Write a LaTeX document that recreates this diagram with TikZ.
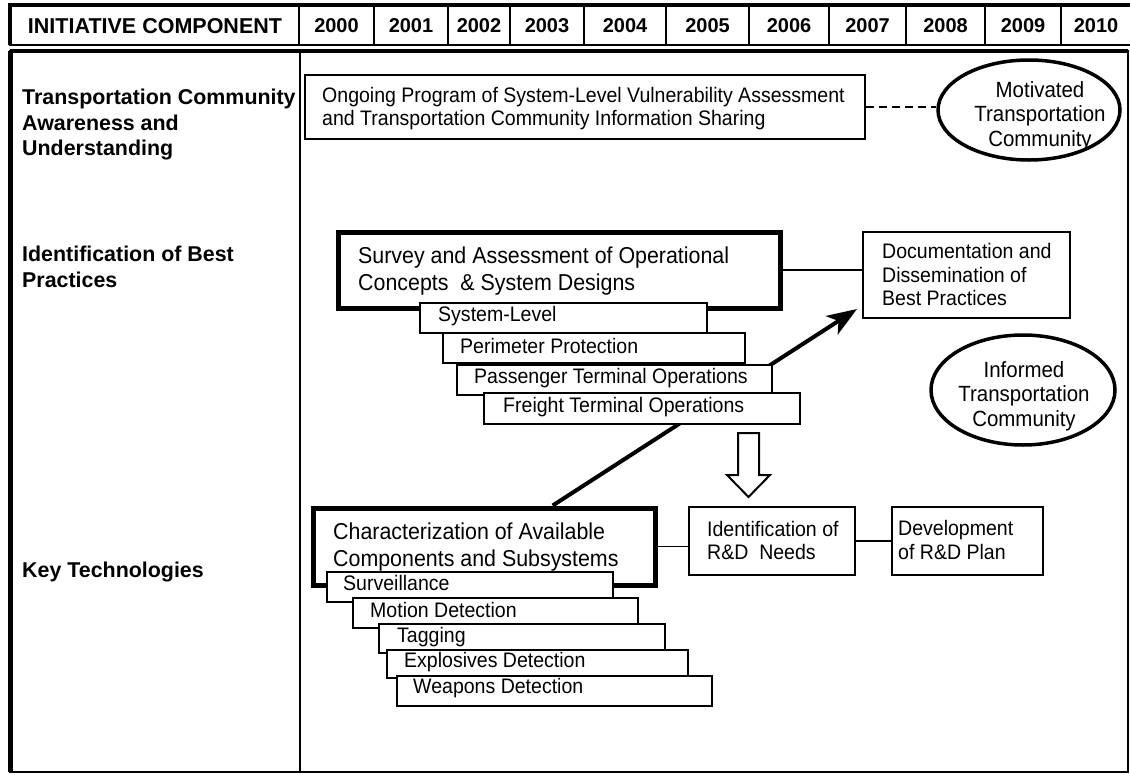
\documentclass[tikz,border=0pt]{standalone}
\usepackage{fontspec}
\setmainfont{Liberation Sans}
\newfontfamily\condsans[FakeStretch=0.93]{Liberation Sans}
\usetikzlibrary{calc,shapes.geometric,arrows.meta}

\begin{document}
\begin{tikzpicture}[x=1pt,y=-1pt,
  thinbox/.style={draw,line width=2pt,fill=white,inner sep=0pt},
  heavybox/.style={draw,line width=5pt,fill=white,inner sep=0pt},
  oval/.style={draw,ellipse,line width=3.5pt,inner sep=0pt},
  txt/.style={font=\condsans\fontsize{21pt}{23.5pt}\selectfont,align=left,inner sep=0pt,anchor=west},
  bigtxt/.style={font=\condsans\fontsize{23pt}{27pt}\selectfont,align=left,inner sep=0pt,anchor=west},
  ovaltxt/.style={font=\condsans\fontsize{22pt}{24.5pt}\selectfont,align=center,inner sep=0pt},
  headtxt/.style={font=\bfseries\fontsize{21.4pt}{25.5pt}\selectfont,align=left,inner sep=0pt,anchor=west},
  yeartxt/.style={font=\bfseries\fontsize{20pt}{22pt}\selectfont,inner sep=0pt},
  conn/.style={line width=1.6pt},
  bigarrow/.style={line width=4pt,-{Stealth[length=30pt,width=22pt,inset=8pt]}},
  hollow/.style={draw,line width=2pt,fill=white,line join=miter}]

\useasboundingbox (0,0) rectangle (1130,774);

% ---- header row ----
\draw[line width=2pt] (10,5) rectangle (1145,45);
\draw[line width=4pt] (10,45) -- (10,5) -- (1145,5);
\foreach \x in {299,374,448,510,584,666,749,829,906,985,1061}
  \draw[line width=1.6pt] (\x,5) -- (\x,45);
\node[yeartxt,font=\bfseries\fontsize{21.5pt}{23pt}\selectfont] (hdr) at (155,26) {INITIATIVE COMPONENT};
\foreach \yr/\cx in {2000/336.5,2001/411,2002/479,2003/547,2004/625,2005/707.5,
                     2006/789,2007/867.5,2008/945.5,2009/1023,2010/1096}
  \node[yeartxt] (yr\yr) at (\cx,26) {\yr};

% ---- body frame ----
\draw[line width=2pt] (10,51) rectangle (1128,772);
\draw[line width=5pt] (10,772) -- (10,51);
\draw[line width=4pt] (10,51) -- (1128,51);
\draw[line width=2pt] (300,51) -- (300,772);

% ---- row headings ----
\node[headtxt] (rowA) at (22,125) {Transportation Community\\Awareness and\\Understanding};
\node[headtxt] (rowB) at (22,267) {Identification of Best\\Practices};
\node[headtxt] (rowC) at (22,572) {Key Technologies};

% ---- awareness row ----
\node[thinbox,minimum width=560pt,minimum height=64pt] (ongoing) at (585,107) {};
\node[txt] (ongoingtxt) at (322,108.5) {Ongoing Program of System-Level Vulnerability Assessment\\and Transportation Community Information Sharing};
\node[oval,minimum width=182pt,minimum height=100pt] (motiv) at (1029,110) {};
\node[ovaltxt] (motivtxt) at (1040,116) {Motivated\\Transportation\\Community};
\draw[conn,line width=2pt,dash pattern=on 8pt off 5pt] (ongoing.east) -- (ongoing.east -| motiv.west);

% ---- main arrow from key technologies up to best practices (behind boxes) ----
\node[heavybox,minimum width=342pt,minimum height=77pt] (charbox) at (484,546.5) {};
\node[thinbox,minimum width=207pt,minimum height=86pt] (doc) at (966.5,275) {};
\coordinate (tipend) at ($(doc.south west)+(-5,-10)$);
\draw[bigarrow] ($(charbox.north west)!0.698!(charbox.north east)$) -- (tipend);

% ---- best practices row ----
\node[heavybox,minimum width=442pt,minimum height=76pt] (survey) at (559,270) {};
\node[bigtxt] (surveytxt) at (358,271.5) {Survey and Assessment of Operational\\Concepts~ \& System Designs};
\node[txt] (doctxt) at (882,274.5) {Documentation and\\Dissemination of\\Best Practices};
\draw[conn] (survey.east) -- (survey.east -| doc.west);

\node[thinbox,minimum width=287pt,minimum height=30pt] (syslevel) at (563.5,318) {};
\node[txt] (syslevelt) at (438,316) {System-Level};
\node[thinbox,minimum width=302pt,minimum height=30pt] (perim) at (594,348) {};
\node[txt] (perimt) at (460,346) {Perimeter Protection};
\node[thinbox,minimum width=315pt,minimum height=30pt] (passenger) at (614.5,380) {};
\node[txt] (passengert) at (474,378) {Passenger Terminal Operations};
\node[thinbox,minimum width=316pt,minimum height=31pt] (freight) at (642,408.5) {};
\node[txt] (freightt) at (503,407) {Freight Terminal Operations};

\node[oval,minimum width=184pt,minimum height=110pt] (informed) at (1023,390) {};
\node[ovaltxt] (informedtxt) at (1024,396) {Informed\\Transportation\\Community};

% ---- hollow arrow down to R&D needs ----
\coordinate (dtop) at (748.5,433);
\draw[hollow] ($(dtop)+(-10.5,0)$) -- ($(dtop)+(10.5,0)$) -- ($(dtop)+(10.5,42)$)
  -- ($(dtop)+(21.5,42)$) -- ($(dtop)+(0,64)$) -- ($(dtop)+(-21.5,42)$)
  -- ($(dtop)+(-10.5,42)$) -- cycle;

% ---- key technologies row ----
\node[bigtxt] (chartxt) at (333,547) {Characterization of Available\\Components and Subsystems};

\node[thinbox,minimum width=286pt,minimum height=30pt] (surv) at (470,587) {};
\node[txt] (survt) at (343,583) {Surveillance};
\node[thinbox,minimum width=285pt,minimum height=30pt] (motion) at (495.5,613) {};
\node[txt] (motiont) at (370,610) {Motion Detection};
\node[thinbox,minimum width=286pt,minimum height=29pt] (tagging) at (522,638.5) {};
\node[txt] (taggingt) at (397,637) {Tagging};
\node[thinbox,minimum width=301pt,minimum height=28pt] (explo) at (537.5,664) {};
\node[txt] (explot) at (404,662) {Explosives Detection};
\node[thinbox,minimum width=315pt,minimum height=30pt] (weapons) at (554.5,691) {};
\node[txt] (weaponst) at (413,688) {Weapons Detection};

\node[thinbox,minimum width=166pt,minimum height=68pt] (idn) at (772,541) {};
\node[txt] (idntxt) at (707,540.5) {Identification of\\R\&D~ Needs};
\node[thinbox,minimum width=151pt,minimum height=68pt] (dev) at (967.5,541) {};
\node[txt] (devtxt) at (898,540) {Development\\of R\&D Plan};

\draw[conn] (charbox.east) -- (charbox.east -| idn.west);
\draw[conn] (idn.east) -- (dev.west);

\end{tikzpicture}
\end{document}
